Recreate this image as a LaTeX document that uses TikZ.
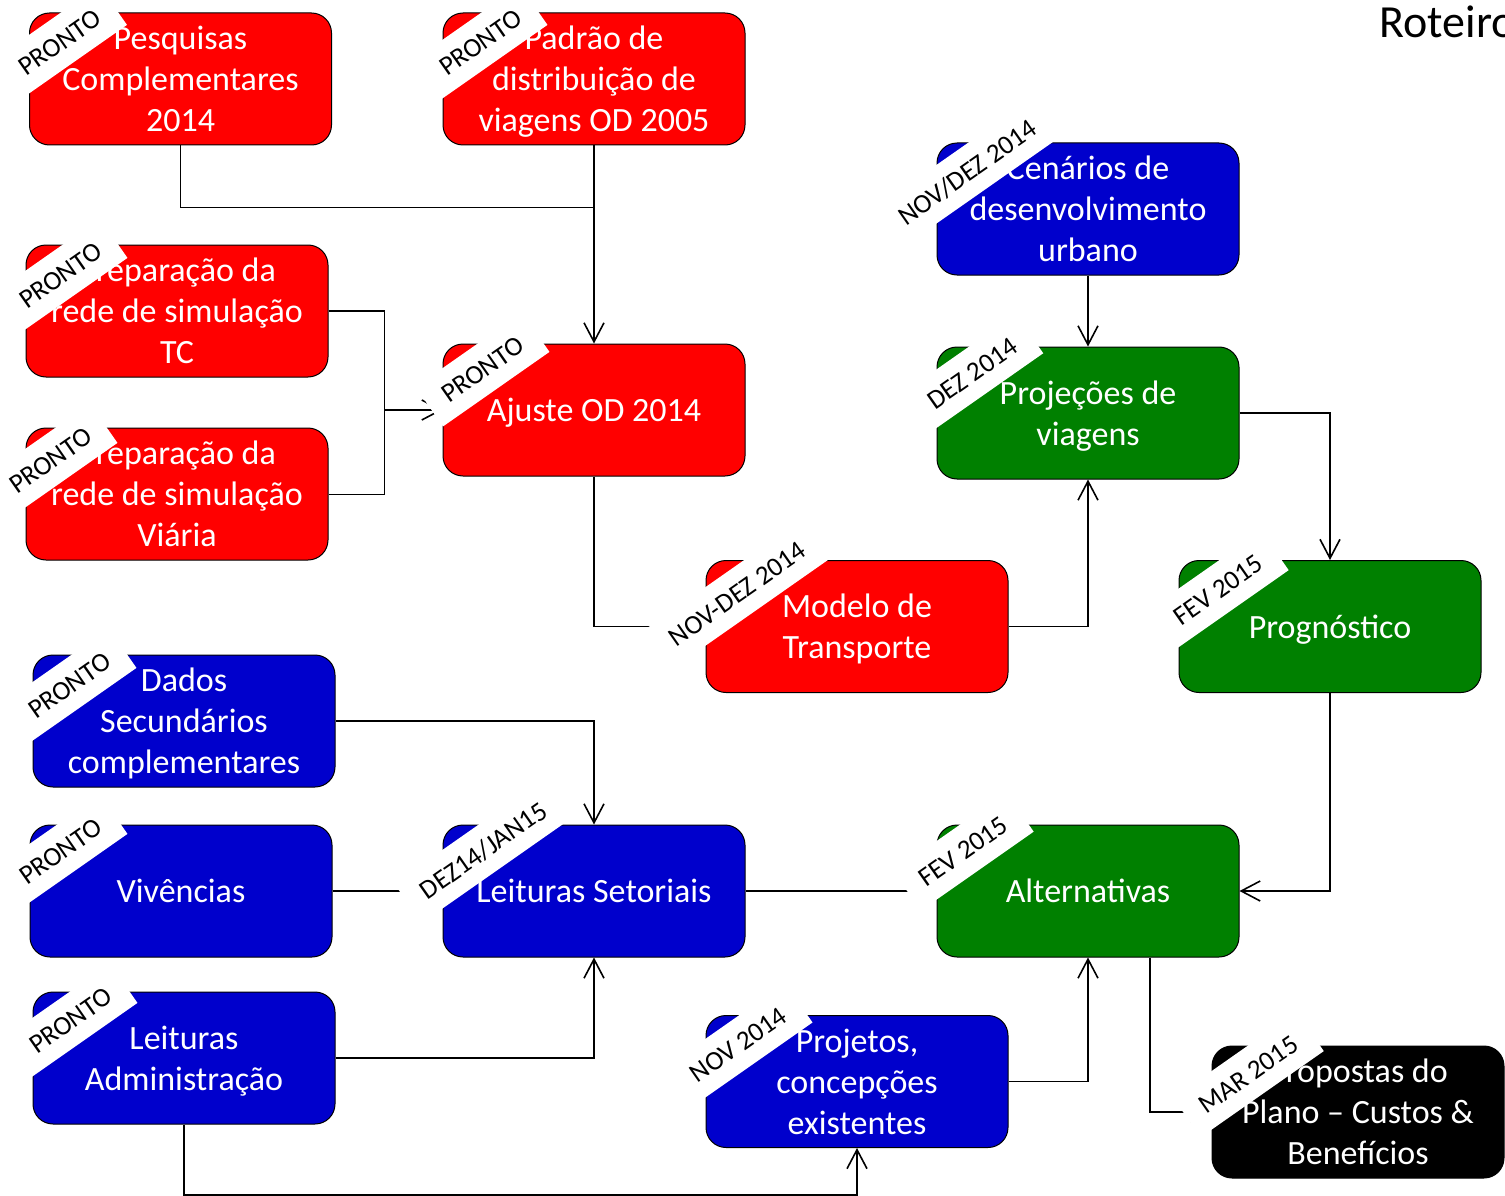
\documentclass[tikz,border=0pt]{standalone}
\usepackage{fontspec}
\setmainfont{Carlito}
\usetikzlibrary{arrows.meta,calc}

\definecolor{vermelho}{RGB}{255,0,0}
\definecolor{azul}{RGB}{0,0,204}
\definecolor{verde}{RGB}{0,128,0}

\tikzset{
  etapa/.style={draw=black, line width=1pt, rounded corners=20pt, minimum width=302pt, minimum height=132pt, inner sep=0pt, text depth=0pt, text=white, align=center, font=\fontsize{34}{41}\selectfont},
  faixa/.style={fill=white, rotate=35, minimum height=48pt, inner xsep=18pt, inner ysep=0pt, text=black, font=\fontsize{27}{27}\selectfont},
  liga/.style={line width=1.6pt},
  fino/.style={line width=1pt},
  seta/.style={line width=1.6pt, -{Straight Barb[length=19pt,width=20pt]}},
}

\begin{document}
\begin{tikzpicture}[x=1pt,y=1pt,yscale=-1,xscale=1]
        \useasboundingbox (0,0) rectangle (1505,1196);
        \clip (0,0) rectangle (1505,1196);

        % Title
        \node [anchor=west, font=\fontsize{46}{46}\selectfont] (titulo) at (1376,22) {Roteiro};

        % Boxes
        \node [etapa, fill=vermelho] (b1) at (180.5,79) {Pesquisas\\Complementares\\2014};
        \node [etapa, fill=vermelho] (b2) at (594,79) {Padrão de\\distribuição de\\viagens OD 2005};
        \node [etapa, fill=vermelho] (b3) at (177,311) {Preparação da\\rede de simulação\\TC};
        \node [etapa, fill=vermelho] (b4) at (177,494) {Preparação da\\rede de simulação\\Viária};
        \node [etapa, fill=vermelho] (b5) at (594,410) {Ajuste OD 2014};
        \node [etapa, fill=azul] (b6) at (1088,209) {Cenários de\\desenvolvimento\\urbano};
        \node [etapa, fill=verde] (b7) at (1088,413) {Projeções de\\viagens};
        \node [etapa, fill=vermelho] (b8) at (857,626.5) {Modelo de\\Transporte};
        \node [etapa, fill=verde] (b9) at (1330,626.5) {Prognóstico};
        \node [etapa, fill=azul] (b10) at (184,721) {Dados\\Secundários\\complementares};
        \node [etapa, fill=azul] (b11) at (181,891) {Vivências};
        \node [etapa, fill=azul] (b12) at (594,891) {Leituras Setoriais};
        \node [etapa, fill=verde] (b13) at (1088,891) {Alternativas};
        \node [etapa, fill=azul] (b14) at (184,1058) {Leituras\\Administração};
        \node [etapa, fill=azul] (b15) at (857,1081.5) {Projetos,\\concepções\\existentes};
        \node [etapa, fill=black, minimum width=292pt] (b16) at (1358,1112) {Propostas do\\Plano -- Custos \&\\Benefícios};

        % Junctions
        \coordinate (j1) at ($(b2.south)+(0,62)$);
        \coordinate (j2) at ($(b5.west)+(-58,0)$);
        \coordinate (j3) at ($(b15.south)+(0,47)$);
        \coordinate (j4) at ($(b13.south)+(62,0)$);

        % Connectors
        \draw [fino] (b1.south) |- (j1);
        \draw [seta] (b2.south) -- (b5.north);
        \draw [liga] (b3.east) -| (j2);
        \draw [fino] (b4.east) -| (j2);
        \draw [seta] (j2) -- (b5.west);
        \draw [seta] (b5.south) |- (b8.west);
        \draw [seta] (b8.east) -| (b7.south);
        \draw [seta] (b6.south) -- (b7.north);
        \draw [seta] (b7.east) -| (b9.north);
        \draw [seta] (b9.south) |- (b13.east);
        \draw [seta] (b10.east) -| (b12.north);
        \draw [seta] (b11.east) -- (b12.west);
        \draw [seta] (b12.east) -- (b13.west);
        \draw [seta] (b14.east) -| (b12.south);
        \draw [seta] (b14.south) |- (j3) -- (b15.south);
        \draw [seta] (b15.east) -| (b13.south);
        \draw [seta] (j4) |- (b16.west);

        % Ribbons
        \node [faixa] (f1) at ($(b1.north west)+(31,30)$) {PRONTO};
        \node [faixa] (f2) at ($(b2.north west)+(38,30)$) {PRONTO};
        \node [faixa] (f3) at ($(b3.north west)+(35,31)$) {PRONTO};
        \node [faixa] (f4) at ($(b4.north west)+(25,33)$) {PRONTO};
        \node [faixa] (f5) at ($(b5.north west)+(40,26)$) {PRONTO};
        \node [faixa] (f6) at ($(b6.north west)+(31,30)$) {NOV/DEZ 2014};
        \node [faixa] (f7) at ($(b7.north west)+(36,27)$) {DEZ 2014};
        \node [faixa] (f8) at ($(b8.north west)+(32,34)$) {NOV-DEZ 2014};
        \node [faixa] (f9) at ($(b9.north west)+(40,30)$) {FEV 2015};
        \node [faixa] (f10) at ($(b10.north west)+(37,31)$) {PRONTO};
        \node [faixa] (f11) at ($(b11.north west)+(31,27)$) {PRONTO};
        \node [faixa] (f12) at ($(b12.north west)+(41,26)$) {DEZ14/JAN15};
        \node [faixa] (f13) at ($(b13.north west)+(27,27)$) {FEV 2015};
        \node [faixa] (f14) at ($(b14.north west)+(38,29)$) {PRONTO};
        \node [faixa] (f15) at ($(b15.north west)+(33,30)$) {NOV 2014};
        \node [faixa] (f16) at ($(b16.north west)+(37,29)$) {MAR 2015};

\end{tikzpicture}
\end{document}
